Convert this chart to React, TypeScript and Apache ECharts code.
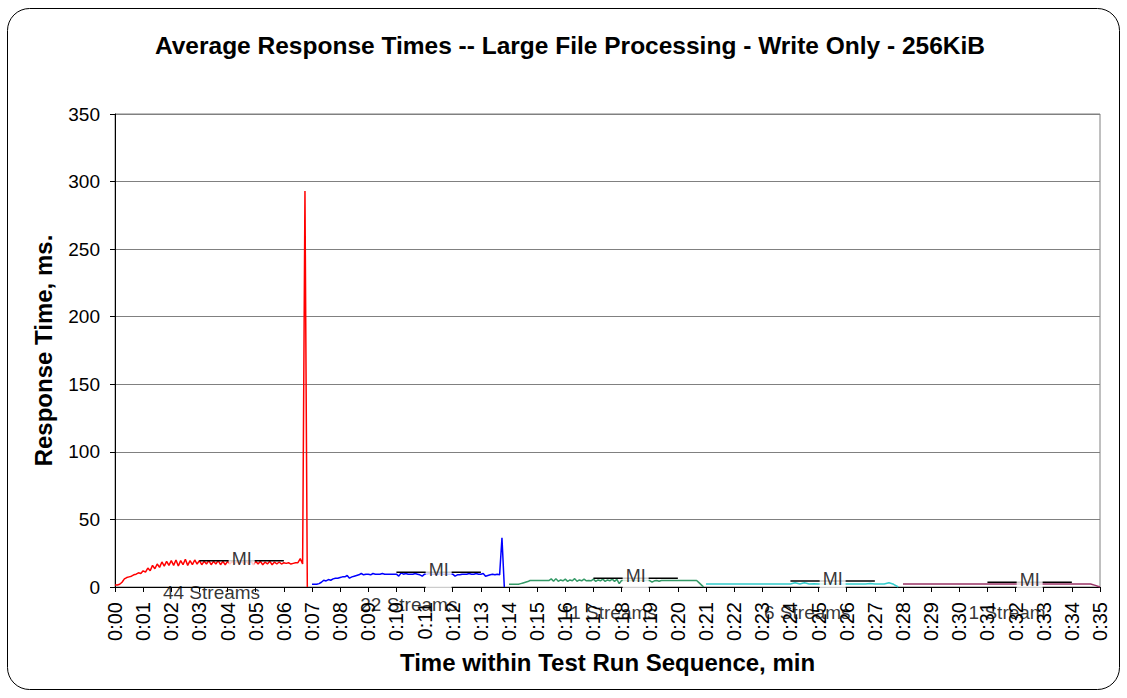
import React, { useEffect, useRef } from "react";
import * as echarts from "echarts";

// ---------- data ----------
const xTickLabels = [
  "0:00", "0:01", "0:02", "0:03", "0:04", "0:05", "0:06", "0:07", "0:08", "0:09",
  "0:10", "0:11", "0:12", "0:13", "0:14", "0:15", "0:16", "0:17", "0:18", "0:19",
  "0:20", "0:21", "0:22", "0:23", "0:24", "0:25", "0:26", "0:27", "0:28", "0:29",
  "0:30", "0:31", "0:32", "0:33", "0:34", "0:35",
];

// 44 streams, 5-second samples from 0:00
const redValues = [
  1.5, 1.5, 2, 3.5, 6, 7, 7.5, 8, 9, 9.5, 10.5, 10,
  12, 11, 14, 12, 16, 13.5, 17, 14.5, 18.5, 15.5, 19, 16,
  19.5, 16, 20, 15.5, 19.5, 16.5, 20.5, 16, 19.5, 16.5, 20, 17,
  19.5, 16.5, 19, 17, 19.5, 16.5, 19, 17, 19.5, 16.5, 19, 16.5,
  19, 17, 19, 17, 19, 17, 19, 17, 19, 17, 19, 16.5,
  19, 17, 19, 16.5, 18.5, 17, 19, 16.5, 18.5, 17, 18.5, 17,
  18, 17.5, 18, 17, 17.5, 18, 18, 21, 17, 293, 0,
];

// 22 streams, 5-second samples from 0:07
const blueValues = [
  2, 2, 2, 2.5, 3.5, 5, 4.5, 5.5, 5, 6, 6.5, 6.5,
  7, 7.5, 7.5, 8.5, 6.5, 7.5, 8, 8.5, 9, 10, 9, 9.5,
  9.5, 9, 10, 9.5, 9.5, 9.5, 10, 9.5, 9.5, 9.5, 9.5, 9.5,
  9.5, 8, 10.5, 9.5, 10, 9.5, 9.5, 9.5, 10, 9.5, 9, 8,
  9.5, 9.5, 10, 9.5, 9.5, 9.5, 9.5, 10, 9.5, 9.5, 9.5, 9.5,
  9.5, 8, 9, 9, 9.5, 9.5, 9.5, 10, 9.5, 9.5, 10, 9.5,
  9.5, 10, 8, 8.5, 9, 9.5, 9, 9.5, 9, 36.5, 0,
];

// 11 streams, 5-second samples from 0:14
const greenValues = [
  2, 2, 2, 2, 2, 2.5, 3, 3.5, 4, 4.8, 4.8, 4.8,
  4.8, 4.8, 4.8, 4.8, 4.8, 4.8, 6, 4.2, 6.2, 4.2, 5.2, 4.6,
  5.8, 4.2, 5.2, 4.6, 6.2, 4.2, 5.2, 4.6, 5.8, 4.6, 4.8, 4.6,
  5.8, 4.2, 5.2, 4.6, 5.8, 4.2, 5.2, 4.6, 5.8, 4.2, 5.6, 2.5,
  4.8, 4.8, 4.8, 4.8, 4.8, 4.8, 4.8, 4.8, 4.8, 4.8, 4.8, 4.8,
  4.8, 3.6, 4.6, 4.8, 4.2, 4.8, 4.8, 4.8, 4.8, 4.8, 4.8, 4.8,
  4.8, 4.8, 4.8, 4.8, 4.8, 4.8, 4.8, 4.8, 4.8, 3.2, 1.6, 0,
];

// 6 streams, 10-second samples from 0:21
const cyanValues = [
  2.2, 2.2, 2.2, 2.2, 2.2, 2.2,
  2.2, 2.2, 2.2, 2.2, 2.2, 2.2,
  2.2, 2.2, 2.2, 2.2, 2.2, 2.2,
  2.2, 3.2, 2.2, 3.2, 2.2, 2.4,
  2.2, 2.2, 2.2, 2.2, 2.2, 2.2,
  2.2, 2.2, 2.2, 2.2, 2.2, 2.6,
  2.2, 2.2, 2.2, 3.2, 2.0, 0,
];

// 1 stream, 10-second samples from 0:28
const magentaValues = [
  2.2, 2.2, 2.2, 2.2, 2.2, 2.2,
  2.2, 2.2, 2.2, 2.2, 2.2, 2.2,
  2.2, 2.2, 2.2, 2.2, 2.2, 2.2,
  2.2, 2.2, 2.2, 2.2, 2.2, 2.2,
  2.2, 2.2, 2.2, 2.2, 2.2, 2.2,
  2.2, 2.2, 2.2, 2.2, 2.2, 2.2,
  2.2, 2.2, 2.2, 2.2, 2.2, 1.2, 0,
];

const phaseStartMin = [0, 7, 14, 21, 28];
const phaseStepMin = [1 / 12, 1 / 12, 1 / 12, 1 / 6, 1 / 6];
const phaseValues = [redValues, blueValues, greenValues, cyanValues, magentaValues];

// Measurement intervals
const miStart = [3, 10, 17, 24, 31];
const miEnd = [6, 13, 20, 27, 34];
const miLevel = [19.5, 11, 6.4, 4.4, 3.5];
const miLabelX = [4.5, 11.5, 18.5, 25.5, 32.5];

const streamLabels = ["44 Streams", "22 Streams", "11 Streams", "6 Streams", "1 Stream"];

// ---------- layout / style ----------
const phaseColors = ["#FF0000", "#0000FF", "#339966", "#33CCCC", "#993366"];
const streamLabelPos = [
  [3.43, -4.1],
  [10.44, -13.3],
  [17.55, -18.5],
  [24.6, -19.2],
  [31.7, -19.2],
];
const FONT = "Liberation Sans, Arial, sans-serif";

export default function App() {
  const ref = useRef<HTMLDivElement>(null);

  useEffect(() => {
    if (!ref.current) return;
    const chart = echarts.init(ref.current, null, { renderer: "svg" });

    const phaseSeries = phaseValues.map((vals, k) => ({
      type: "line",
      data: vals.map((v, i) => [phaseStartMin[k] + i * phaseStepMin[k], v]),
      symbol: "none",
      showSymbol: false,
      lineStyle: { color: phaseColors[k], width: 1.5 },
      itemStyle: { color: phaseColors[k] },
      z: 2,
      silent: true,
    }));

    const miSeries = miStart.map((s, i) => ({
      type: "line",
      data: [
        [s, miLevel[i]],
        [miEnd[i], miLevel[i]],
      ],
      symbol: "none",
      showSymbol: false,
      lineStyle: { color: "#000", width: 1.5 },
      z: 3,
      silent: true,
    }));

    const miLabelSeries = {
      type: "scatter",
      data: miLabelX.map((x, i) => [x, miLevel[i]]),
      symbolSize: 0,
      itemStyle: { color: "rgba(0,0,0,0)" },
      clip: false,
      z: 6,
      silent: true,
      label: {
        show: true,
        position: "inside",
        formatter: "MI",
        color: "#000",
        fontFamily: FONT,
        fontSize: 18,
        backgroundColor: "#fff",
        padding: [12, 3],
        offset: [0, -2],
      },
    };

    const streamLabelSeries = {
      type: "scatter",
      data: streamLabelPos.map((p) => [p[0], p[1]]),
      symbolSize: 0,
      itemStyle: { color: "rgba(0,0,0,0)" },
      clip: false,
      z: 7,
      silent: true,
      label: {
        show: true,
        position: "inside",
        formatter: (p: any) => streamLabels[p.dataIndex],
        color: "#000",
        fontFamily: FONT,
        fontSize: 19,
      },
    };

    chart.setOption({
      animation: false,
      textStyle: { fontFamily: FONT },
      grid: {
        left: 115,
        right: 27,
        top: 114,
        bottom: 111,
        show: true,
        borderColor: "#808080",
        borderWidth: 1,
      },
      graphic: [
        {
          type: "rect",
          shape: { x: 7.5, y: 8.5, width: 1112, height: 681, r: 22 },
          style: { fill: "none", stroke: "#000", lineWidth: 1 },
          z: 0,
          silent: true,
        },
        {
          type: "text",
          x: 570,
          y: 45,
          style: {
            text: "Average Response Times -- Large File Processing - Write Only - 256KiB",
            font: `bold 24.5px ${FONT}`,
            fill: "#000",
            align: "center",
            verticalAlign: "middle",
          },
          z: 10,
        },
      ],
      xAxis: {
        type: "value",
        min: 0,
        max: 35,
        interval: 1,
        name: "Time within Test Run Sequence, min",
        nameLocation: "middle",
        nameGap: 63,
        nameTextStyle: { fontWeight: "bold", fontSize: 24, color: "#000", fontFamily: FONT },
        axisLine: { show: true, onZero: false, lineStyle: { color: "#000", width: 1 } },
        axisTick: { show: true, length: 5, lineStyle: { color: "#000" } },
        axisLabel: {
          rotate: 90,
          margin: 15,
          fontSize: 20,
          color: "#000",
          fontFamily: FONT,
          formatter: (v: number) => xTickLabels[Math.round(v)] ?? "",
        },
        splitLine: { show: false },
      },
      yAxis: {
        type: "value",
        min: 0,
        max: 350,
        interval: 50,
        name: "Response Time, ms.",
        nameLocation: "middle",
        nameGap: 60,
        nameTextStyle: { fontWeight: "bold", fontSize: 24, color: "#000", fontFamily: FONT },
        axisLine: { show: true, lineStyle: { color: "#000", width: 1 } },
        axisTick: { show: true, length: 5, lineStyle: { color: "#000" } },
        axisLabel: { margin: 15, fontSize: 19, color: "#000", fontFamily: FONT },
        splitLine: { show: true, lineStyle: { color: "#808080", width: 1 } },
      },
      series: [...phaseSeries, ...miSeries, miLabelSeries, streamLabelSeries],
    });

    return () => chart.dispose();
  }, []);

  return (
    <div
      ref={ref}
      style={{ position: "absolute", left: 0, top: 0, width: 1127, height: 698, background: "#fff" }}
    />
  );
}
